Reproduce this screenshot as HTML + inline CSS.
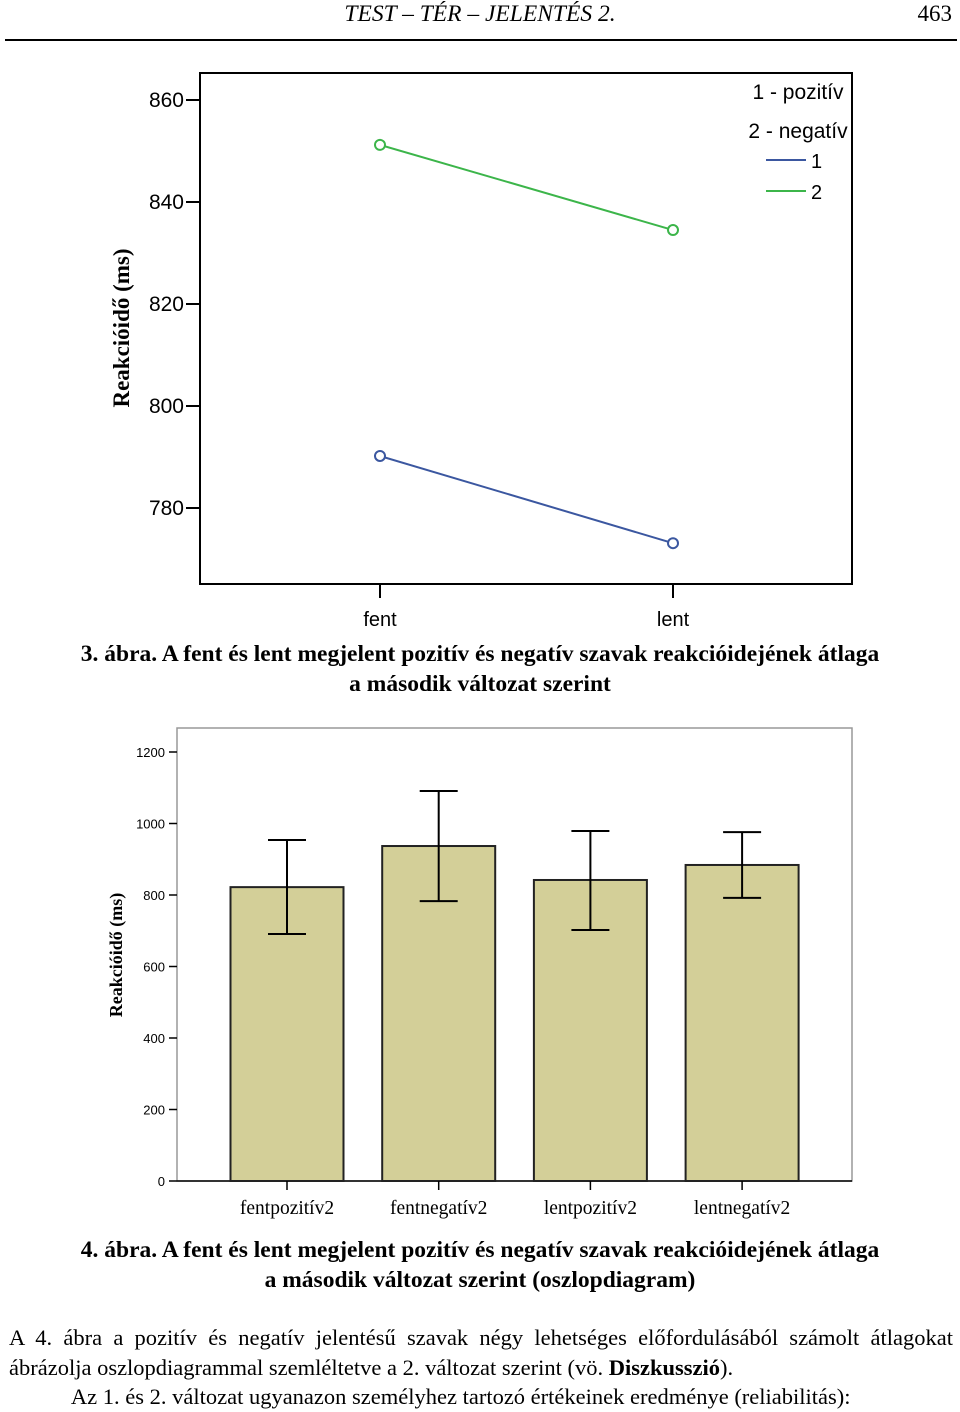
<!DOCTYPE html>
<html><head><meta charset="utf-8"><style>
body{margin:0;width:960px;height:1412px;background:#fff;overflow:hidden;font-family:"Liberation Serif",serif;}
svg text{font-family:"Liberation Sans",sans-serif;}
.p{position:absolute;font-size:21px;color:#000;white-space:nowrap}
</style></head><body>
<div style="position:relative;width:960px;height:1412px">
<div class="p" style="left:0;width:960px;top:1px;text-align:center;font-style:italic;font-size:23.5px">TEST – TÉR – JELENTÉS 2.</div>
<div class="p" style="right:8px;top:1px;font-size:23px">463</div>
<div style="position:absolute;left:5px;top:39px;width:952px;height:2px;background:#000"></div>

<svg id="c1" style="position:absolute;left:0;top:0" width="960" height="640"></svg>
<div class="p" style="left:0;width:960px;top:639px;text-align:center;font-weight:bold;line-height:30px;font-size:23.5px">3. ábra. A fent és lent megjelent pozitív és negatív szavak reakcióidejének átlaga<br>a második változat szerint</div>

<svg id="c2" style="position:absolute;left:0;top:700px" width="960" height="530"></svg>
<div class="p" style="left:0;width:960px;top:1235px;text-align:center;font-weight:bold;line-height:30px;font-size:23.5px">4. ábra. A fent és lent megjelent pozitív és negatív szavak reakcióidejének átlaga<br>a második változat szerint (oszlopdiagram)</div>
<div class="p" style="left:9px;width:944px;top:1323px;line-height:29.5px;text-align:justify;white-space:normal;font-size:22.5px">A 4. ábra a pozitív és negatív jelentésű szavak négy lehetséges előfordulásából számolt átlagokat ábrázolja oszlopdiagrammal szemléltetve a 2. változat szerint (vö. <b>Diszkusszió</b>).<br>&nbsp;&nbsp;&nbsp;&nbsp;&nbsp;&nbsp;&nbsp;&nbsp;&nbsp;&nbsp;&nbsp;Az 1. és 2. változat ugyanazon személyhez tartozó értékeinek eredménye (reliabilitás):</div>
</div>
<script>
const NS='http://www.w3.org/2000/svg';
function mk(p,t,a,txt){const e=document.createElementNS(NS,t);for(const k in a)e.setAttribute(k,a[k]);if(txt!==undefined)e.textContent=txt;p.appendChild(e);return e;}

// Chart 1 data
const c1Categories=['fent','lent'];
const c1Series1=[790.2,773.1];
const c1Series2=[851.2,834.5];
const c1Ticks=[780,800,820,840,860];
(function(){
const s=document.getElementById('c1');
const y=v=>100+(860-v)*5.1;
const x=i=>380+i*293;
let r=mk(s,'rect',{x:200,y:73,width:652,height:511,fill:'#fff',stroke:'#000','stroke-width':2});

c1Ticks.forEach(t=>{
 let l=mk(s,'line',{x1:186,x2:200,y1:y(t),y2:y(t),stroke:'#000','stroke-width':2});
 
 let tx=mk(s,'text',{x:184,y:y(t)+7,'text-anchor':'end','font-size':21},String(t));
 
});
c1Categories.forEach((c,i)=>{
 let l=mk(s,'line',{x1:x(i),x2:x(i),y1:584,y2:598,stroke:'#000','stroke-width':2});
 
 let tx=mk(s,'text',{x:x(i),y:626,'text-anchor':'middle','font-size':20},c);
 
});
let yt=mk(s,'text',{x:0,y:0,transform:'translate(129,328) rotate(-90)','text-anchor':'middle','font-size':23,'font-weight':'bold',style:'font-family:"Liberation Serif",serif'},'Reakcióidő (ms)');

[[c1Series1,'#3b57a0','series-1'],[c1Series2,'#3cb54a','series-2']].forEach(([d,col,n])=>{
 let pl=mk(s,'polyline',{points:d.map((v,i)=>x(i)+','+y(v)).join(' '),fill:'none',stroke:col,'stroke-width':2});
 
 d.forEach((v,i)=>{let c=mk(s,'circle',{cx:x(i),cy:y(v),r:5,fill:'#fff',stroke:col,'stroke-width':2});
 });
});
const lg=[['1 - pozitív',null,99],['2 - negatív',null,138],['1','#3b57a0',168],['2','#3cb54a',199]];
lg.forEach(([t,col,yy])=>{
 if(col){let l=mk(s,'line',{x1:766,x2:806,y1:yy-8,y2:yy-8,stroke:col,'stroke-width':2});
  
  let tx=mk(s,'text',{x:811,y:yy,'font-size':20},t);}
 else{let tx=mk(s,'text',{x:798,y:yy,'text-anchor':'middle','font-size':21},t);}
});
})();

// Chart 2 data
const c2Categories=['fentpozitív2','fentnegatív2','lentpozitív2','lentnegatív2'];
const c2Means=[822,937,842,884];
const c2Upper=[954,1091,979,976];
const c2Lower=[691,783,702,792];
const c2Ticks=[0,200,400,600,800,1000,1200];
(function(){
const s=document.getElementById('c2');
const y=v=>481-v*0.3575;
const x=i=>287+i*151.7;
let r=mk(s,'rect',{x:177,y:28,width:675,height:453,fill:'#fff',stroke:'#999','stroke-width':1.5});

mk(s,'line',{x1:177,x2:852,y1:481,y2:481,stroke:'#000','stroke-width':1.5});
c2Ticks.forEach(t=>{
 let l=mk(s,'line',{x1:169,x2:177,y1:y(t),y2:y(t),stroke:'#000','stroke-width':1.5});
 
 let tx=mk(s,'text',{x:165,y:y(t)+5,'text-anchor':'end','font-size':13},String(t));
 
});
let yt=mk(s,'text',{x:0,y:0,transform:'translate(122,255) rotate(-90)','text-anchor':'middle','font-size':18,'font-weight':'bold',style:'font-family:"Liberation Serif",serif'},'Reakcióidő (ms)');

c2Categories.forEach((c,i)=>{
 let b=mk(s,'rect',{x:x(i)-56.5,y:y(c2Means[i]),width:113,height:y(0)-y(c2Means[i]),fill:'#d3cf98',stroke:'#222','stroke-width':2});
 
 let g=mk(s,'g',{stroke:'#000','stroke-width':2});
 
 mk(g,'line',{x1:x(i),x2:x(i),y1:y(c2Upper[i]),y2:y(c2Lower[i])});
 mk(g,'line',{x1:x(i)-19,x2:x(i)+19,y1:y(c2Upper[i]),y2:y(c2Upper[i])});
 mk(g,'line',{x1:x(i)-19,x2:x(i)+19,y1:y(c2Lower[i]),y2:y(c2Lower[i])});
 let l=mk(s,'line',{x1:x(i),x2:x(i),y1:481,y2:490,stroke:'#000','stroke-width':1.5});
 
 let tx=mk(s,'text',{x:x(i),y:514,'text-anchor':'middle','font-size':19.5,style:'font-family:"Liberation Serif",serif'},c);
 
});
})();
</script>
</body></html>
